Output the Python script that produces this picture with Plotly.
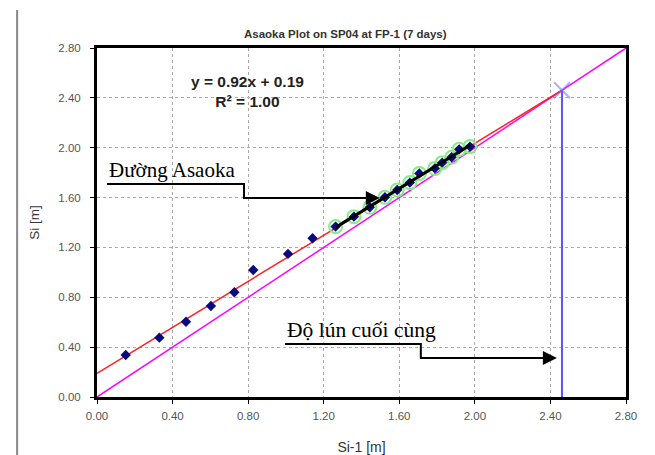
import numpy as np
import plotly.graph_objects as go

# ---- data ----
si_prev = [0.152, 0.330, 0.471, 0.603, 0.727, 0.827, 1.011, 1.141,
           1.263, 1.360, 1.444, 1.524, 1.589, 1.656, 1.706, 1.788, 1.827, 1.877, 1.917, 1.974]
si = [0.337, 0.476, 0.604, 0.730, 0.840, 1.019, 1.148, 1.274,
      1.367, 1.447, 1.522, 1.602, 1.661, 1.720, 1.794, 1.834, 1.880, 1.923, 1.987, 2.009]
fit_start = 8  # points used in regression (green circles)
slope = 0.9228
intercept = 0.19
tick_vals = [0.0, 0.4, 0.8, 1.2, 1.6, 2.0, 2.4, 2.8]
tick_text = ["0.00", "0.40", "0.80", "1.20", "1.60", "2.00", "2.40", "2.80"]

title = "Asaoka Plot on SP04 at FP-1 (7 days)"
eq_text = "<b>y = 0.92x + 0.19<br>R² = 1.00</b>"
label_asaoka = "Đường Asaoka"
label_final = "Độ lún cuối cùng"

s_final = intercept / (1 - slope)

fig = go.Figure()

# 45-degree line
fig.add_trace(go.Scatter(x=[0, 2.8], y=[0, 2.8], mode="lines",
                         line=dict(color="#ff00ff", width=1.5), hoverinfo="skip"))
# Asaoka (red) line
fig.add_trace(go.Scatter(x=[0, s_final], y=[intercept, intercept + slope * s_final], mode="lines",
                         line=dict(color="#ff2020", width=1.5), hoverinfo="skip"))
# final settlement vertical
fig.add_trace(go.Scatter(x=[s_final, s_final], y=[0, s_final], mode="lines",
                         line=dict(color="#5555ff", width=2), hoverinfo="skip"))
fig.add_trace(go.Scatter(x=[s_final], y=[s_final], mode="markers",
                         marker=dict(symbol="x-thin-open", size=16, color="rgba(110,110,255,0.55)",
                                     line=dict(color="rgba(110,110,255,0.55)", width=2)),
                         hoverinfo="skip"))
# green circles around regression points
fig.add_trace(go.Scatter(x=si_prev[fit_start:], y=si[fit_start:], mode="markers",
                         marker=dict(symbol="circle-open", size=13, color="#86ec86",
                                     line=dict(color="#86ec86", width=2)),
                         hoverinfo="skip"))
# data diamonds
fig.add_trace(go.Scatter(x=si_prev, y=si, mode="markers",
                         marker=dict(symbol="diamond", size=8, color="#0a0a80")))
# black regression line over the fitted subset
xs = np.array(si_prev[fit_start:])
ys = np.array(si[fit_start:])
a, b = np.polyfit(xs, ys, 1)
fig.add_trace(go.Scatter(x=[xs.min(), xs.max()], y=[a * xs.min() + b, a * xs.max() + b], mode="lines",
                         line=dict(color="black", width=3), hoverinfo="skip"))

# callout polylines
fig.add_trace(go.Scatter(x=[0.053, 0.778, 0.778, 1.40], y=[1.709, 1.709, 1.597, 1.597], mode="lines",
                         line=dict(color="black", width=2), hoverinfo="skip"))
fig.add_trace(go.Scatter(x=[0.995, 1.714, 1.714, 2.35], y=[0.425, 0.425, 0.313, 0.313], mode="lines",
                         line=dict(color="black", width=2), hoverinfo="skip"))

annotations = [
    dict(x=1.497, y=1.597, ax=1.35, ay=1.597, axref="x", ayref="y", xref="x", yref="y",
         text="", showarrow=True, arrowhead=2, arrowsize=1.4, arrowwidth=2, arrowcolor="black"),
    dict(x=2.434, y=0.313, ax=2.3, ay=0.313, axref="x", ayref="y", xref="x", yref="y",
         text="", showarrow=True, arrowhead=2, arrowsize=1.4, arrowwidth=2, arrowcolor="black"),
    dict(x=0.053, y=1.712, xref="x", yref="y", xanchor="left", yanchor="bottom", showarrow=False,
         text=label_asaoka, font=dict(family="Liberation Serif", size=21, color="black")),
    dict(x=0.995, y=0.428, xref="x", yref="y", xanchor="left", yanchor="bottom", showarrow=False,
         text=label_final, font=dict(family="Liberation Serif", size=21.5, color="black")),
    dict(x=0.794, y=2.455, xref="x", yref="y", showarrow=False, text=eq_text,
         font=dict(family="Liberation Sans", size=15.5, color="#222")),
    dict(x=0.47, y=1.0, xref="paper", yref="paper", yanchor="bottom", yshift=6, showarrow=False,
         text="<b>" + title + "</b>", font=dict(family="Liberation Sans", size=11.5, color="#333")),
]

axis_common = dict(range=[0, 2.8], tickvals=tick_vals, ticktext=tick_text,
                   showgrid=True, gridcolor="#aaaaaa", griddash="dot", gridwidth=1,
                   showline=True, linecolor="black", linewidth=3, mirror=True,
                   ticks="outside", ticklen=4, tickcolor="black",
                   tickfont=dict(family="Liberation Sans", size=11.5, color="#555"),
                   zeroline=False, fixedrange=True, automargin=False)

fig.update_layout(
    width=655, height=455,
    margin=dict(l=97, r=29, t=48, b=58),
    paper_bgcolor="white", plot_bgcolor="white",
    showlegend=False,
    annotations=annotations,
    xaxis=dict(**axis_common, ticklabelstandoff=2,
               title=dict(text="Si-1 [m]", standoff=22,
                          font=dict(family="Liberation Sans", size=14, color="#333"))),
    yaxis=dict(**axis_common, ticklabelstandoff=7,
               title=dict(text="Si [m]", standoff=16,
                          font=dict(family="Liberation Sans", size=13.5, color="#333"))),
    shapes=[dict(type="line", xref="paper", yref="paper", x0=-0.151, x1=-0.151, y0=1.109, y1=-0.2,
                 line=dict(color="#888888", width=2))],
)

fig.write_html("out.html")
